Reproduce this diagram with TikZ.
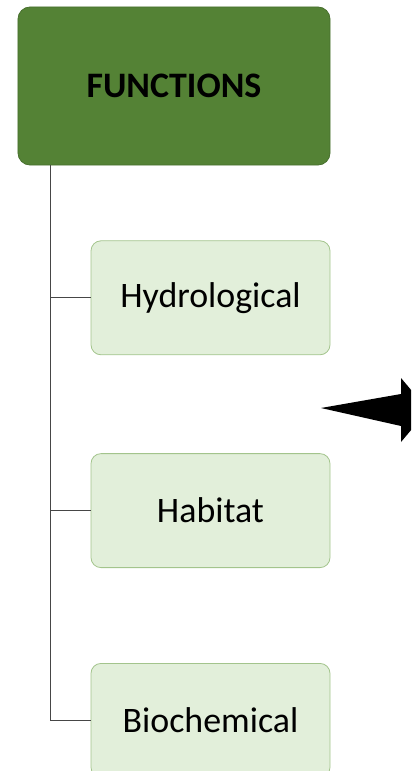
\documentclass[tikz,border=0pt]{standalone}
\usepackage{fontspec}
\setmainfont{Carlito}
\definecolor{leafgreen}{RGB}{84,130,53}
\definecolor{leafedge}{RGB}{72,112,46}
\definecolor{palegreen}{RGB}{226,239,218}
\definecolor{paleedge}{RGB}{163,196,140}
\definecolor{treegray}{RGB}{70,70,70}
\usetikzlibrary{positioning}

\begin{document}
\begin{tikzpicture}[x=1bp,y=1bp]
  \tikzstyle{rootbox}=[rectangle,rounded corners=12bp,draw=leafedge,fill=leafgreen,line width=0.8bp,minimum width=312bp,minimum height=158bp,inner sep=0pt,font=\fontsize{36}{40}\selectfont\bfseries]
  \tikzstyle{childbox}=[rectangle,rounded corners=10bp,draw=paleedge,fill=palegreen,line width=0.8bp,minimum width=239bp,minimum height=114bp,inner sep=0pt,font=\fontsize{36}{40}\selectfont]
  \tikzstyle{branch}=[draw=treegray,line width=1.1bp]
  \useasboundingbox (0,0) rectangle (411,-771);
  \clip (0,0) rectangle (411,-771);
  \node[rootbox] (func) at (174,-86) {FUNCTIONS};
  \node[childbox,anchor=north west] (hydro) at ([xshift=73bp,yshift=-75bp]func.south west) {Hydrological};
  \node[childbox,below=98bp of hydro] (habitat) {Habitat};
  \node[childbox,below=95bp of habitat] (biochem) {Biochemical};
  \coordinate (trunk) at ([xshift=33bp]func.south west);
  \draw[branch] (trunk) |- (biochem.west);
  \draw[branch] (trunk |- hydro.west) -- (hydro.west);
  \draw[branch] (trunk |- habitat.west) -- (habitat.west);
  % pointer on the right edge
  \fill[black] (321,-408) -- (401,-394) -- (401,-378) -- (428,-410) -- (401,-442) -- (401,-426) -- cycle;
\end{tikzpicture}
\end{document}
